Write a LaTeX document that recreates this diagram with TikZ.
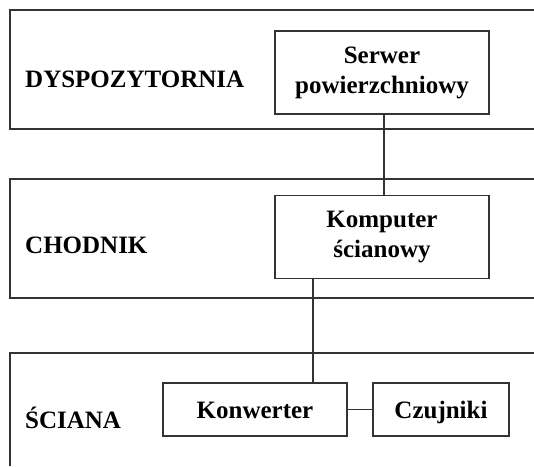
\documentclass[tikz,border=0pt]{standalone}
\usepackage{fontspec}
\setmainfont{Liberation Serif}
\begin{document}
\begin{tikzpicture}[x=1pt,y=-1pt,
  ln/.style={draw=black!80,line width=1.1pt},
  unit/.style={ln,fill=white,inner sep=0pt,align=center,
    font=\fontsize{25}{30}\selectfont\bfseries},
  oneline/.style={unit,text height=17pt,text depth=0pt},
  lvl/.style={inner sep=0pt,anchor=base west,
    font=\fontsize{25}{30}\selectfont\bfseries}]
\useasboundingbox[fill=white] (0,0) rectangle (534,466);

% three horizontal zones, open on the right (and the last one at the bottom)
\draw[ln] (534,10) -- (10,10) -- (10,129) -- (534,129);
\draw[ln] (534,179) -- (10,179) -- (10,298) -- (534,298);
\draw[ln] (534,353) -- (10,353) -- (10,466);

% zone titles
\node[lvl] (t1) at (25,87) {DYSPOZYTORNIA};
\node[lvl] (t2) at (25,253) {CHODNIK};
\node[lvl] (t3) at (25,428) {ŚCIANA};

% devices
\node[unit,minimum width=214,minimum height=83] (serw) at (382,72.5)
  {Serwer\\powierzchniowy};
\node[unit,minimum width=214,minimum height=83] (komp) at (382,237)
  {Komputer\\ścianowy};
\node[oneline,minimum width=184,minimum height=53] (konw) at (255,409.5)
  {Konwerter};
\node[oneline,minimum width=136,minimum height=53] (czuj) at (441,409.5)
  {Czujniki};

% links
\coordinate (xa) at (384,0);
\coordinate (xb) at (313,0);
\draw[ln] (serw.south -| xa) -- (komp.north -| xa);
\draw[ln] (komp.south -| xb) -- (konw.north -| xb);
\draw[ln] (konw.east) -- (czuj.west);
\end{tikzpicture}
\end{document}
